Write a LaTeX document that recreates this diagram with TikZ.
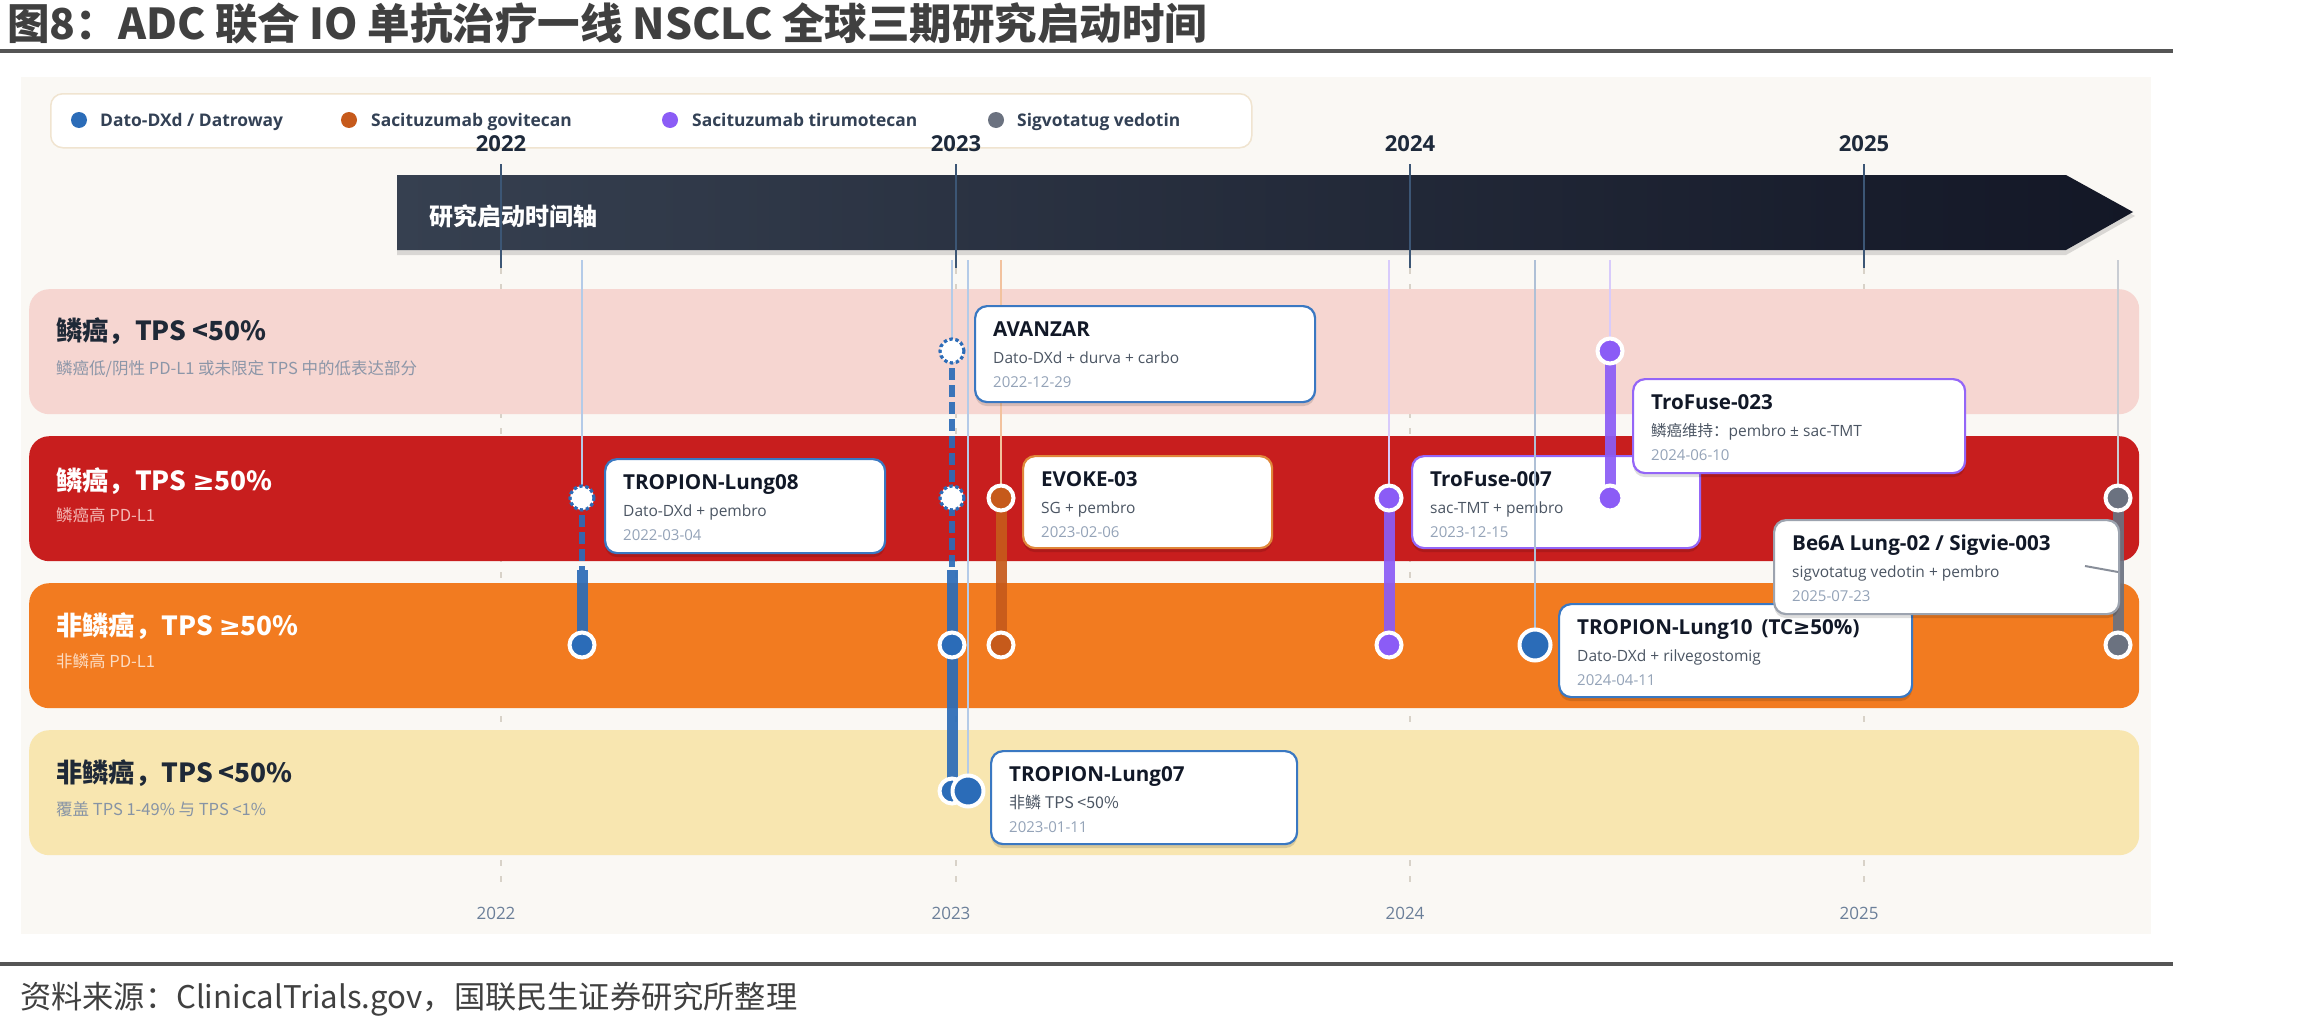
\documentclass[tikz,border=0pt]{standalone}
\usepackage{fontspec}
\setmainfont{Open Sans}
\newfontfamily\cjk{Noto Sans CJK SC}
\newfontfamily\symf{DejaVu Sans}
\usetikzlibrary{calc,shadows}
\newcommand\myfs[1]{\fontsize{#1}{#1}\selectfont}
\newcommand\mygeq{{\symf ≥}}
\definecolor{titlegray}{HTML}{404040}
\definecolor{rulegray}{HTML}{555555}
\definecolor{srcgray}{HTML}{404040}
\definecolor{panelbg}{HTML}{FAF8F4}
\definecolor{legborder}{HTML}{F0E4D0}
\definecolor{legtext}{HTML}{334155}
\definecolor{dato}{HTML}{2B6CB8}
\definecolor{sg}{HTML}{C65A1B}
\definecolor{tmt}{HTML}{8B5CF6}
\definecolor{sigv}{HTML}{6B7280}
\definecolor{datoborder}{HTML}{3A78C2}
\definecolor{sgborder}{HTML}{E0873A}
\definecolor{tmtborder}{HTML}{9466F7}
\definecolor{sigvborder}{HTML}{9CA3AF}
\definecolor{guideblue}{HTML}{B4CBE8}
\definecolor{guideblue2}{HTML}{AFC0D6}
\definecolor{guideorange}{HTML}{F2C29E}
\definecolor{guidepurple}{HTML}{D8CBFB}
\definecolor{guidegray}{HTML}{C9CDD3}
\definecolor{laneA}{HTML}{F6D6D1}
\definecolor{laneB}{HTML}{C81E1E}
\definecolor{laneC}{HTML}{F27B20}
\definecolor{laneD}{HTML}{F8E6B0}
\definecolor{darktext}{HTML}{1F2937}
\definecolor{subA}{HTML}{8C96A8}
\definecolor{subB}{HTML}{F3B9B5}
\definecolor{subC}{HTML}{FCDCC2}
\definecolor{subD}{HTML}{8693A5}
\definecolor{yearnavy}{HTML}{1E2A3B}
\definecolor{yearcol}{HTML}{3C5675}
\definecolor{arrowL}{HTML}{364050}
\definecolor{arrowR}{HTML}{131726}
\definecolor{gridgray}{HTML}{D8D2C8}
\definecolor{cardtitle}{HTML}{111827}
\definecolor{cardmid}{HTML}{4B5563}
\definecolor{carddate}{HTML}{94A3B8}
\definecolor{axislabel}{HTML}{6B7F99}
\begin{document}
\begin{tikzpicture}[x=1pt, y=-1pt,
  trdot/.style={circle, fill=#1, draw=white, line width=4pt, minimum size=25pt, inner sep=0pt},
  trbig/.style={circle, fill=#1, draw=white, line width=4pt, minimum size=31pt, inner sep=0pt},
  trghost/.style={circle, fill=white, draw=dato, line width=3.2pt, dash pattern=on 3.4pt off 2.6pt, minimum size=24pt, inner sep=0pt},
  trbar/.style={draw=#1, line width=11pt, opacity=0.92},
  trdash/.style={draw=dato, line width=5.5pt, dash pattern=on 12pt off 5pt, opacity=0.92},
  trguide/.style={draw=#1, line width=1.4pt},
  gridline/.style={draw=gridgray, line width=1.2pt, dash pattern=on 6pt off 10pt},
  yearline/.style={draw=yearcol, line width=2pt},
  lane/.style={rounded corners=20pt, inner sep=0pt, anchor=north west, minimum width=2110pt, minimum height=125pt},
  lanetitle/.style={anchor=base west, inner sep=0pt, font=\cjk\bfseries\myfs{26.3}},
  lanesub/.style={anchor=base west, inner sep=0pt, font=\cjk\myfs{16.5}},
  card/.style={draw=#1, fill=white, line width=2.2pt, rounded corners=12pt, inner sep=0pt, anchor=north west, drop shadow={shadow xshift=0pt, shadow yshift=-4pt, opacity=0.13, fill=black}},
  ctitle/.style={anchor=base west, inner sep=0pt, font=\bfseries\myfs{20.6}, text=cardtitle},
  cmid/.style={anchor=base west, inner sep=0pt, font=\myfs{15.5}, text=cardmid},
  cdate/.style={anchor=base west, inner sep=0pt, font=\myfs{15}, text=carddate},
  legdot/.style={circle, fill=#1, minimum size=16pt, inner sep=0pt},
  legtxt/.style={anchor=base west, inner sep=0pt, font=\bfseries\myfs{17.4}, text=legtext},
  yeartop/.style={anchor=base, inner sep=0pt, font=\bfseries\myfs{22}, text=yearnavy},
  yearbot/.style={anchor=base, inner sep=0pt, font=\myfs{17}, text=axislabel}
]
% canvas
\path[use as bounding box, fill=white] (0,0) rectangle (2310,1025);

% title and rules
\node[anchor=base west, inner sep=0pt, font=\cjk\bfseries\myfs{42.5}, text=titlegray] (title) at (7,40) {图8：ADC 联合 IO 单抗治疗一线 NSCLC 全球三期研究启动时间};
\coordinate (ruleTL) at (0,51);
\coordinate (ruleTR) at (2173,51);
\draw[rulegray, line width=4pt] (ruleTL) -- (ruleTR);
\coordinate (ruleBL) at (0,964);
\coordinate (ruleBR) at (2173,964);
\draw[rulegray, line width=4pt] (ruleBL) -- (ruleBR);
\node[anchor=base west, inner sep=0pt, font=\cjk\myfs{31.2}, text=srcgray] (source) at (20,1008) {资料来源：ClinicalTrials.gov，国联民生证券研究所整理};

% panel
\fill[panelbg] (21,77) rectangle (2151,934);

% legend
\node[draw=legborder, fill=white, line width=1.5pt, rounded corners=12pt, anchor=north west, minimum width=1201pt, minimum height=54pt, inner sep=0pt] (legend) at (50,93) {};
\node[legdot=dato] (ld1) at (79,120) {};
\node[legtxt] (lt1) at (100,126) {Dato-DXd / Datroway};
\node[legdot=sg] (ld2) at (349,120) {};
\node[legtxt] (lt2) at (371,126) {Sacituzumab govitecan};
\node[legdot=tmt] (ld3) at (670,120) {};
\node[legtxt] (lt3) at (692,126) {Sacituzumab tirumotecan};
\node[legdot=sigv] (ld4) at (996,120) {};
\node[legtxt] (lt4) at (1017,126) {Sigvotatug vedotin};

% grid lines
\foreach \xx/\yy in {501/2022, 956/2023, 1410/2024, 1864/2025}{
  \coordinate (gt\yy) at (\xx,268);
  \coordinate (gb\yy) at (\xx,888);
  \draw[gridline] (gt\yy) -- (gb\yy);
  \node[yearbot] (yb\yy) at (\xx-5,919) {\yy};
}

% timeline arrow
\fill[black, opacity=0.13] (397,179) -- (2066,179) -- (2135,216) -- (2066,255) -- (397,255) -- cycle;
\shade[left color=arrowL, right color=arrowR] (397,175) -- (2066,175) -- (2133,212) -- (2066,250) -- (397,250) -- cycle;
\node[anchor=base west, inner sep=0pt, font=\cjk\bfseries\myfs{24}, text=white] (axistitle) at (429,225) {研究启动时间轴};
\foreach \xx/\yy in {501/2022, 956/2023, 1410/2024, 1864/2025}{
  \coordinate (yl\yy) at (\xx,164);
  \draw[yearline] (yl\yy) -- (gt\yy);
  \node[yeartop] (yt\yy) at (\xx,151) {\yy};
}

% lanes
\node[lane, fill=laneA] (laneA) at (29,289) {};
\node[lanetitle, text=darktext] (laneAt) at (56,340) {鳞癌，TPS <50\%};
\node[lanesub, text=subA] (laneAs) at (56,374) {鳞癌低/阴性 PD-L1 或未限定 TPS 中的低表达部分};
\node[lane, fill=laneB] (laneB) at (29,436) {};
\node[lanetitle, text=white] (laneBt) at (56,490) {鳞癌，TPS \mygeq50\%};
\node[lanesub, text=subB] (laneBs) at (56,521) {鳞癌高 PD-L1};
\node[lane, fill=laneC] (laneC) at (29,583) {};
\node[lanetitle, text=white] (laneCt) at (56,635) {非鳞癌，TPS \mygeq50\%};
\node[lanesub, text=subC] (laneCs) at (56,667) {非鳞高 PD-L1};
\node[lane, fill=laneD] (laneD) at (29,730) {};
\node[lanetitle, text=darktext] (laneDt) at (56,782) {非鳞癌，TPS <50\%};
\node[lanesub, text=subD] (laneDs) at (56,815) {覆盖 TPS 1-49\% 与 TPS <1\%};

% trial coordinates
\coordinate (g08) at (582,260);   \coordinate (p08a) at (582,498); \coordinate (p08m) at (582,570); \coordinate (p08b) at (582,645);
\coordinate (gAV) at (952,260);   \coordinate (pAVa) at (952,351); \coordinate (pAVb) at (952,498); \coordinate (pAVm) at (952,570); \coordinate (pAVc) at (952,645); \coordinate (pAVd) at (952,791);
\coordinate (g07) at (968,260);   \coordinate (p07) at (968,791);
\coordinate (gEV) at (1001,260);  \coordinate (pEVa) at (1001,498); \coordinate (pEVb) at (1001,645);
\coordinate (gF7) at (1389,260);  \coordinate (pF7a) at (1389,498); \coordinate (pF7b) at (1389,645);
\coordinate (g10) at (1535,260);  \coordinate (p10) at (1535,645);
\coordinate (gF23) at (1610,260); \coordinate (pF23a) at (1610,351); \coordinate (pF23b) at (1610,498);
\coordinate (gBe) at (2118,260);  \coordinate (pBea) at (2118,498); \coordinate (pBeb) at (2118,645);

% guide lines
\draw[trguide=guideblue] (g08) -- (p08a);
\draw[trguide=guideblue] (gAV) -- (pAVa);
\draw[trguide=guideblue] (g07) -- (p07);
\draw[trguide=guideorange] (gEV) -- (pEVa);
\draw[trguide=guidepurple] (gF7) -- (pF7a);
\draw[trguide=guidepurple] (gF23) -- (pF23a);
\draw[trguide=guidegray] (gBe) -- (pBea);

% TROPION-Lung08
\draw[trdash] (p08a) -- (p08m);
\draw[trbar=dato] (p08m) -- (p08b);
\node[trghost] (d08a) at (p08a) {};
\node[trdot=dato] (d08b) at (p08b) {};
\node[card=datoborder, minimum width=280pt, minimum height=94pt] (c08) at (604,458) {};
\node[ctitle] (c08t) at ($(c08.north west)+(19,31)$) {TROPION-Lung08};
\node[cmid] (c08m) at ($(c08.north west)+(19,58)$) {Dato-DXd + pembro};
\node[cdate] (c08d) at ($(c08.north west)+(19,82)$) {2022-03-04};

% AVANZAR
\draw[trdash] (pAVa) -- (pAVm);
\draw[trbar=dato] (pAVm) -- (pAVd);
\node[trghost] (dAVa) at (pAVa) {};
\node[trghost] (dAVb) at (pAVb) {};
\node[trdot=dato] (dAVc) at (pAVc) {};
\node[trdot=dato] (dAVd) at (pAVd) {};
\node[card=datoborder, minimum width=340pt, minimum height=96pt] (cAV) at (974,305) {};
\node[ctitle] (cAVt) at ($(cAV.north west)+(19,31)$) {AVANZAR};
\node[cmid] (cAVm) at ($(cAV.north west)+(19,58)$) {Dato-DXd + durva + carbo};
\node[cdate] (cAVd) at ($(cAV.north west)+(19,82)$) {2022-12-29};

% TROPION-Lung07
\node[trbig=dato] (d07) at (p07) {};
\node[card=datoborder, minimum width=306pt, minimum height=93pt] (c07) at (990,750) {};
\node[ctitle] (c07t) at ($(c07.north west)+(19,31)$) {TROPION-Lung07};
\node[cmid, font=\cjk\myfs{16}] (c07m) at ($(c07.north west)+(19,58)$) {非鳞 TPS <50\%};
\node[cdate] (c07d) at ($(c07.north west)+(19,82)$) {2023-01-11};

% EVOKE-03
\draw[trbar=sg] (pEVa) -- (pEVb);
\node[trdot=sg] (dEVa) at (pEVa) {};
\node[trdot=sg] (dEVb) at (pEVb) {};
\node[card=sgborder, minimum width=249pt, minimum height=92pt] (cEV) at (1022,455) {};
\node[ctitle] (cEVt) at ($(cEV.north west)+(19,31)$) {EVOKE-03};
\node[cmid] (cEVm) at ($(cEV.north west)+(19,58)$) {SG + pembro};
\node[cdate] (cEVd) at ($(cEV.north west)+(19,82)$) {2023-02-06};

% TroFuse-007
\draw[trbar=tmt] (pF7a) -- (pF7b);
\node[trdot=tmt] (dF7a) at (pF7a) {};
\node[trdot=tmt] (dF7b) at (pF7b) {};
\node[card=tmtborder, minimum width=288pt, minimum height=92pt] (cF7) at (1411,455) {};
\node[ctitle] (cF7t) at ($(cF7.north west)+(19,31)$) {TroFuse-007};
\node[cmid] (cF7m) at ($(cF7.north west)+(19,58)$) {sac-TMT + pembro};
\node[cdate] (cF7d) at ($(cF7.north west)+(19,82)$) {2023-12-15};

% TROPION-Lung10
\draw[trguide=guideblue2] (g10) -- (p10);
\node[trbig=dato] (d10) at (p10) {};
\node[card=datoborder, minimum width=353pt, minimum height=93pt] (c10) at (1558,603) {};
\node[ctitle] (c10t) at ($(c10.north west)+(19,31)$) {TROPION-Lung10\hspace{9pt}(TC\mygeq50\%)};
\node[cmid] (c10m) at ($(c10.north west)+(19,58)$) {Dato-DXd + rilvegostomig};
\node[cdate] (c10d) at ($(c10.north west)+(19,82)$) {2024-04-11};

% TroFuse-023
\draw[trbar=tmt] (pF23a) -- (pF23b);
\node[trdot=tmt] (dF23a) at (pF23a) {};
\node[trdot=tmt] (dF23b) at (pF23b) {};
\node[card=tmtborder, minimum width=332pt, minimum height=94pt] (cF23) at (1632,378) {};
\node[ctitle] (cF23t) at ($(cF23.north west)+(19,31)$) {TroFuse-023};
\node[cmid] (cF23m) at ($(cF23.north west)+(19,58)$) {{\cjk 鳞癌维持：}pembro ± sac-TMT};
\node[cdate] (cF23d) at ($(cF23.north west)+(19,82)$) {2024-06-10};

% Be6A Lung-02 / Sigvie-003
\draw[trbar=sigv] (pBea) -- (pBeb);
\node[trdot=sigv] (dBea) at (pBea) {};
\node[trdot=sigv] (dBeb) at (pBeb) {};
\node[card=sigvborder, minimum width=345pt, minimum height=94pt] (cBe) at (1773,519) {};
\node[ctitle] (cBet) at ($(cBe.north west)+(19,31)$) {Be6A Lung-02 / Sigvie-003};
\node[cmid] (cBem) at ($(cBe.north west)+(19,58)$) {sigvotatug vedotin + pembro};
\node[cdate] (cBed) at ($(cBe.north west)+(19,82)$) {2025-07-23};
\coordinate (beLead) at (2085,566);
\coordinate (beLeadEnd) at (2118,572);
\draw[sigv, line width=2pt, opacity=0.8] (beLead) -- (beLeadEnd);
\end{tikzpicture}
\end{document}
